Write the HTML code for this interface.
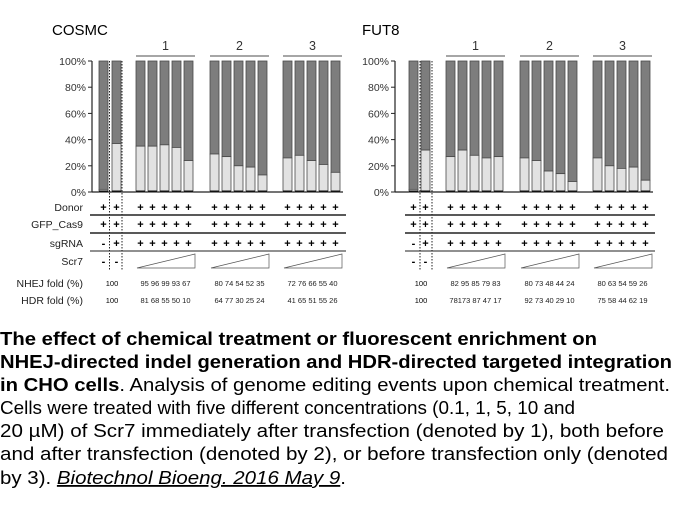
<!DOCTYPE html>
<html><head><meta charset="utf-8"><style>
body{margin:0;background:#fff;width:680px;height:510px;overflow:hidden}
svg{display:block;font-family:"Liberation Sans",Arial,sans-serif}
</style></head><body>
<svg id="s" width="680" height="510" viewBox="0 0 680 510" xmlns="http://www.w3.org/2000/svg">
<g id="g"></g>
<g font-size="18" fill="#000">
<text x="0" y="345" font-weight="bold" textLength="597" lengthAdjust="spacingAndGlyphs">The effect of chemical treatment or fluorescent enrichment on</text>
<text x="0" y="368" font-weight="bold" textLength="672" lengthAdjust="spacingAndGlyphs">NHEJ-directed indel generation and HDR-directed targeted integration</text>
<text x="0" y="391" textLength="670" lengthAdjust="spacingAndGlyphs"><tspan font-weight="bold">in CHO cells</tspan>. Analysis of genome editing events upon chemical treatment.</text>
<text x="0" y="414" textLength="575" lengthAdjust="spacingAndGlyphs">Cells were treated with five different concentrations (0.1, 1, 5, 10 and</text>
<text x="0" y="437" textLength="664" lengthAdjust="spacingAndGlyphs">20 µM) of Scr7 immediately after transfection (denoted by 1), both before</text>
<text x="0" y="460" textLength="668" lengthAdjust="spacingAndGlyphs">and after transfection (denoted by 2), or before transfection only (denoted</text>
<text x="0" y="484" textLength="346" lengthAdjust="spacingAndGlyphs">by 3). <tspan font-style="italic" text-decoration="underline">Biotechnol Bioeng. 2016 May 9</tspan>.</text>
</g>
</svg>
<script>
var g=document.getElementById('g'),h='';
function panel(o){
 var ax=o.ax,y0=192,y1=61,H=y0-y1;
 h+='<text x="'+o.tx+'" y="35" font-size="15">'+o.title+'</text>';
 [0,20,40,60,80,100].forEach(function(p){var y=y0-H*p/100;
  h+='<text x="'+(ax-6)+'" y="'+(y+4)+'" font-size="10.5" text-anchor="end" fill="#333">'+p+'%</text>';
  h+='<line x1="'+(ax-4)+'" x2="'+ax+'" y1="'+y+'" y2="'+y+'" stroke="#222"/>';});
 h+='<line x1="'+ax+'" x2="'+ax+'" y1="'+y1+'" y2="'+y0+'" stroke="#222" stroke-width="1.2"/>';
 h+='<line x1="'+ax+'" x2="'+o.axEnd+'" y1="'+y0+'" y2="'+y0+'" stroke="#222" stroke-width="1.2"/>';
 function bar(x,l,ctrl){var lt=y0-H*l/100;
  h+='<rect x="'+x+'" y="'+y1+'" width="9" height="'+(lt-y1)+'" fill="#7d7d7d" stroke="#4a4a4a" stroke-width="0.8"/>';
  h+='<rect x="'+x+'" y="'+lt+'" width="9" height="'+(y0-lt)+'" fill="#e2e2e2" stroke="#4a4a4a" stroke-width="0.8"/>';
  h+='<rect x="'+x+'" y="'+(y0-1.5)+'" width="9" height="1.5" fill="#111"/>';}
 bar(o.c[0],o.cl[0]);bar(o.c[1],o.cl[1]);
 o.d.forEach(function(x){h+='<line x1="'+x+'" x2="'+x+'" y1="'+y1+'" y2="270" stroke="#222" stroke-dasharray="1.5,1.5"/>';});
 o.gx.forEach(function(gx,i){
  h+='<line x1="'+gx+'" x2="'+(gx+59)+'" y1="56" y2="56" stroke="#888" stroke-width="1.5"/>';
  h+='<text x="'+(gx+29.5)+'" y="50" font-size="12.5" text-anchor="middle" fill="#333">'+(i+1)+'</text>';
  for(var k=0;k<5;k++){bar(gx+12*k,o.gl[i][k]);}
  [207,224,243].forEach(function(y){for(var k=0;k<5;k++)h+='<text x="'+(gx+12*k+4.5)+'" y="'+(y+4)+'" font-size="11" text-anchor="middle" font-weight="bold">+</text>';});
  h+='<polygon points="'+(gx+1)+',268 '+(gx+59)+',254 '+(gx+59)+',268" fill="none" stroke="#555" stroke-width="0.7"/>';
  h+='<text x="'+(gx+29.5)+'" y="286" font-size="7.5" text-anchor="middle" fill="#222">'+o.nh[i]+'</text>';
  h+='<text x="'+(gx+29.5)+'" y="303" font-size="7.5" text-anchor="middle" fill="#222">'+o.hd[i]+'</text>';
 });
 var cs=[['+','+'],['+','+'],['-','+'],['-','-']];
 [207,224,243,261].forEach(function(y,r){for(var k=0;k<2;k++)h+='<text x="'+(o.c[k]+4.5)+'" y="'+(y+4)+'" font-size="11" text-anchor="middle" font-weight="bold">'+cs[r][k]+'</text>';});
 h+='<text x="'+(o.c[1]+0)+'" y="286" font-size="7.5" text-anchor="middle">100</text>';
 h+='<text x="'+(o.c[1]+0)+'" y="303" font-size="7.5" text-anchor="middle">100</text>';
 [215,233,251].forEach(function(y,i){h+='<line x1="'+o.l0+'" x2="'+o.l1+'" y1="'+y+'" y2="'+y+'" stroke="#222" stroke-width="'+(i==2?1:1.5)+'"/>';});
 if(o.labels){var L=[['Donor',207],['GFP_Cas9',224],['sgRNA',243],['Scr7',261],['NHEJ fold (%)',286],['HDR fold (%)',303]];
  L.forEach(function(a){h+='<text x="83" y="'+(a[1]+4-(a[1]>280?3:0))+'" font-size="10.5" text-anchor="end" fill="#222">'+a[0]+'</text>';});}
}
panel({title:'COSMC',tx:52,ax:92,axEnd:343,c:[99,112],cl:[2,37],d:[109.5,122],gx:[136,210,283],
 gl:[[35,35,36,34,24],[29,27,20,19,13],[26,28,24,21,15]],
 nh:['95 96 99 93 67','80 74 54 52 35','72 76 66 55 40'],hd:['81 68 55 50 10','64 77 30 25 24','41 65 51 55 26'],l0:90,l1:346,labels:1});
panel({title:'FUT8',tx:362,ax:395,axEnd:653,c:[409,421],cl:[2,32],d:[420,432],gx:[446,520,593],
 gl:[[27,32,28,26,27],[26,24,16,14,8],[26,20,18,19,9]],
 nh:['82 95 85 79 83','80 73 48 44 24','80 63 54 59 26'],hd:['78173 87 47 17','92 73 40 29 10','75 58 44 62 19'],l0:405,l1:655});
g.innerHTML=h;
</script>
</body></html>
